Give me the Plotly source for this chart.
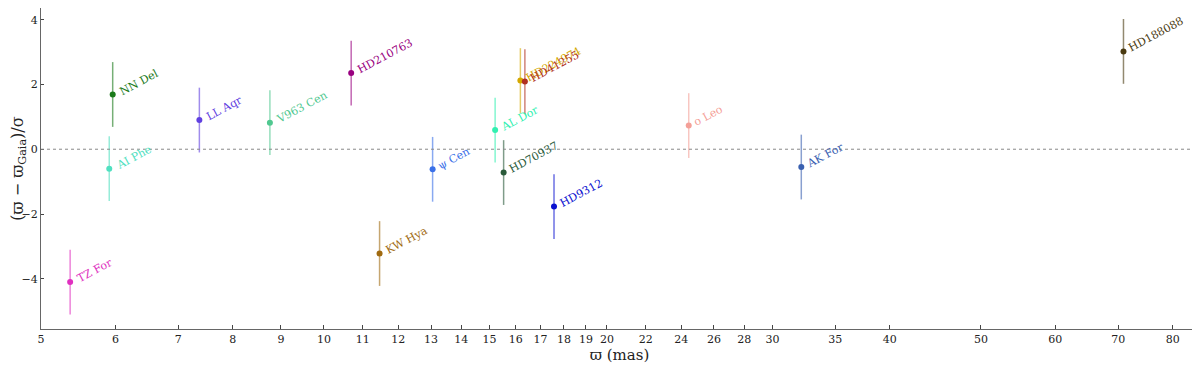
import numpy as np
import plotly.graph_objects as go

names = ["TZ For", "AI Phe", "NN Del", "LL Aqr", "V963 Cen", "HD210763", "KW Hya",
         "ψ Cen", "AL Dor", "HD70937", "HD224974", "HD41255", "HD9312", "o Leo",
         "AK For", "HD188088"]
plx = [5.37, 5.91, 5.96, 7.37, 8.76, 10.69, 11.46,
       13.05, 15.21, 15.53, 16.18, 16.36, 17.57, 24.44,
       32.2, 70.9]
resid = [-4.10, -0.60, 1.69, 0.90, 0.82, 2.35, -3.22,
         -0.62, 0.59, -0.72, 2.12, 2.09, -1.77, 0.73,
         -0.55, 3.02]
err = [1.0] * len(names)
colors = ["#e030c0", "#50e0c0", "#1a7a1a", "#6040e0", "#50c890", "#990080", "#a06a10",
          "#3a70e8", "#30f0b0", "#2a5a3a", "#d4a800", "#b03020", "#0a10d0", "#f4a098",
          "#3a60b0", "#4a3a10"]

xticks = [5, 6, 7, 8, 9, 10, 11, 12, 13, 14, 15, 16, 17, 18, 19, 20,
          22, 24, 26, 28, 30, 35, 40, 50, 60, 70, 80]
yticks = [-4, -2, 0, 2, 4]


def rgba(hexc, a):
    h = hexc.lstrip("#")
    r, g, b = int(h[0:2], 16), int(h[2:4], 16), int(h[4:6], 16)
    return f"rgba({r},{g},{b},{a})"


font = "DejaVu Serif"
fig = go.Figure()

for n, x, y, e, c in zip(names, plx, resid, err, colors):
    fig.add_trace(go.Scatter(
        x=[x], y=[y], mode="markers", name=n,
        marker=dict(color=c, size=6),
        error_y=dict(type="data", array=[e], color=rgba(c, 0.6),
                     thickness=1.5, width=0),
        showlegend=False,
    ))
    fig.add_annotation(
        x=np.log10(x + 0.03), y=y, text=n, showarrow=False,
        textangle=-28, xanchor="left", yanchor="bottom", yshift=-6,
        font=dict(family=font, size=11, color=c),
    )

fig.add_hline(y=0, line=dict(color="#888888", width=1, dash="dot"))

fig.update_xaxes(
    type="log", range=[np.log10(5), np.log10(85.1)],
    tickvals=xticks, ticktext=[str(t) for t in xticks],
    ticks="inside", ticklen=4, tickcolor="#444",
    showline=True, linecolor="#666", linewidth=1.2, mirror=True,
    showgrid=False, zeroline=False, automargin=False,
    title=dict(text="ϖ (mas)", font=dict(family=font, size=15, color="#222"), standoff=2),
    tickfont=dict(family=font, size=11, color="#222"),
)
fig.update_yaxes(
    range=[-5.55, 4.36], tickvals=yticks, ticktext=["−4", "−2", "0", "2", "4"],
    ticks="inside", ticklen=3, tickcolor="#444",
    showline=True, linecolor="#666", linewidth=1.2, mirror=True,
    showgrid=False, zeroline=False, automargin=False,
    title=dict(text="(ϖ − ϖ<sub>Gaia</sub>)/σ", font=dict(family=font, size=16, color="#222"),
               standoff=3),
    tickfont=dict(family=font, size=11, color="#222"),
)

# page body has an 8px margin, so the figure is shrunk and the margins trimmed
fig.update_layout(
    width=1192, height=359,
    margin=dict(l=33, r=2, t=0, b=38),
    plot_bgcolor="white", paper_bgcolor="white",
)

fig.write_html("out.html")
